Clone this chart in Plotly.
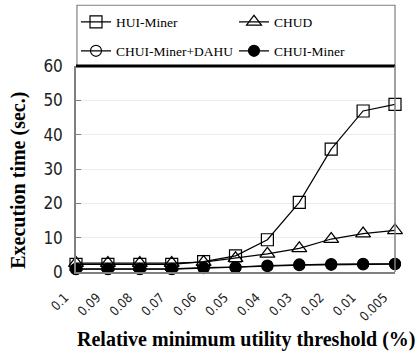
import plotly.graph_objects as go

thresholds = ["0.1", "0.09", "0.08", "0.07", "0.06", "0.05", "0.04", "0.03", "0.02", "0.01", "0.005"]
hui_miner = [2.2, 2.2, 2.2, 2.2, 3.0, 4.7, 9.4, 20.3, 35.8, 46.9, 48.8]
chud = [2.6, 2.6, 2.6, 2.6, 2.9, 4.0, 5.3, 6.9, 9.6, 11.2, 12.1]
chui_dahu = [0.8, 0.8, 0.8, 0.8, 1.1, 1.3, 1.7, 2.0, 2.1, 2.2, 2.3]
chui_miner = [0.9, 0.9, 0.9, 0.9, 1.3, 1.4, 1.9, 2.2, 2.3, 2.4, 2.4]

serif = "Liberation Serif"
sans_narrow = "DejaVu Sans Condensed"
W, H = 418, 358

# (name, values, marker symbol, marker size, legend id, legend position in px)
series = [
    ("HUI-Miner", hui_miner, "square-open", 12, "legend", (76, 22)),
    ("CHUD", chud, "triangle-up-open", 13, "legend2", (234, 22)),
    ("CHUI-Miner+DAHU", chui_dahu, "circle-open", 11, "legend3", (76, 51)),
    ("CHUI-Miner", chui_miner, "circle", 11, "legend4", (234, 51)),
]

fig = go.Figure()
legends = {}
for name, vals, sym, size, leg, (lx, ly) in series:
    fig.add_trace(go.Scatter(
        x=thresholds, y=vals, name=name, mode="lines+markers",
        line=dict(color="black", width=1.2),
        marker=dict(symbol=sym, size=size, color="black",
                    line=dict(color="black", width=1.2)),
        cliponaxis=False, legend=leg,
    ))
    legends[leg] = dict(
        xref="container", yref="container",
        x=lx / W, y=1 - ly / H, xanchor="left", yanchor="middle",
        font=dict(family=serif, size=13.5, color="black"),
        bgcolor="rgba(0,0,0,0)", itemwidth=30,
    )

fig.update_layout(
    width=W, height=H,
    margin=dict(l=76, r=23, t=66, b=86, autoexpand=False),
    paper_bgcolor="white", plot_bgcolor="white",
    showlegend=True,
    **legends,
    xaxis=dict(
        type="category", range=[0, 10],
        showline=True, linecolor="#808080", linewidth=1.5, mirror=False,
        ticks="", showgrid=False,
        tickangle=-45, ticklabelshift=-11, ticklabelstandoff=11,
        tickfont=dict(family=sans_narrow, size=13, color="#222"),
    ),
    yaxis=dict(
        range=[0, 60], dtick=10,
        showline=True, linecolor="#808080", linewidth=1.5,
        ticks="inside", ticklen=5, tickcolor="#808080",
        showgrid=True, gridcolor="#ececec", gridwidth=1,
        zeroline=False, ticklabelstandoff=8,
        tickfont=dict(family=sans_narrow, size=17, color="#222"),
    ),
    annotations=[
        dict(text="<b>Relative minimum utility threshold (%)</b>",
             xref="paper", yref="paper", x=0.533, y=-0.330,
             xanchor="center", yanchor="middle", showarrow=False,
             font=dict(family=serif, size=20, color="black")),
        dict(text="<b>Execution time (sec.)</b>", textangle=-90,
             xref="paper", yref="paper", x=-0.179, y=0.447,
             xanchor="center", yanchor="middle", showarrow=False,
             font=dict(family=serif, size=20, color="black")),
    ],
    shapes=[
        # legend frame above the plot area
        dict(type="rect", xref="paper", yref="paper", x0=0.003, x1=1.0, y0=1.0, y1=1.295,
             line=dict(color="#808080", width=1.2)),
        # heavy rule separating legend and plot
        dict(type="line", xref="paper", yref="paper", x0=0.0, x1=1.0, y0=1.0, y1=1.0,
             line=dict(color="black", width=3)),
        # right frame edge
        dict(type="line", xref="paper", yref="paper", x0=1.0, x1=1.0, y0=0.0, y1=1.0,
             line=dict(color="#808080", width=1.5)),
    ],
)

fig.write_html("out.html")
